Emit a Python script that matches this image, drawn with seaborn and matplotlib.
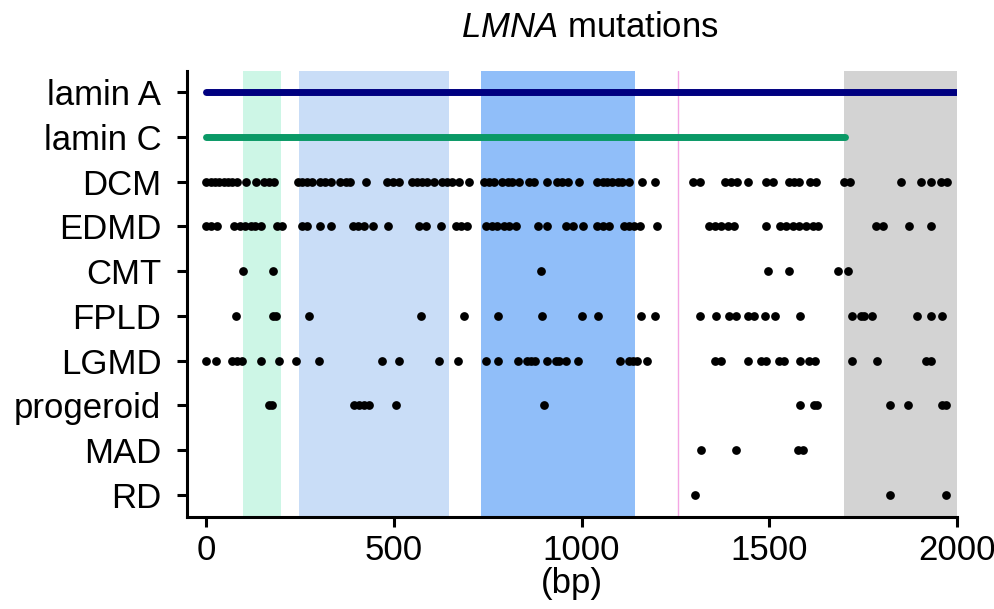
"""LMNA mutation positions by disease, drawn as a strip plot."""

import matplotlib

matplotlib.use("Agg")
import matplotlib.pyplot as plt
import pandas as pd
import seaborn as sns

rows = ["lamin A", "lamin C", "DCM", "EDMD", "CMT", "FPLD", "LGMD", "progeroid", "MAD", "RD"]

lamin_a_span = [0, 2000]
lamin_c_span = [0, 1702]

dcm = [1, 13, 24, 36, 47, 59, 70, 82, 107, 134, 156, 169, 182, 245, 257, 270, 283,
       305, 318, 332, 358, 372, 385, 427, 483, 498, 514, 550, 563, 576, 589, 607,
       629, 643, 656, 674, 700, 740, 754, 767, 789, 803, 816, 834, 860, 874, 907,
       936, 949, 963, 994, 1042, 1056, 1069, 1082, 1096, 1109, 1127, 1160, 1195,
       1296, 1316, 1382, 1398, 1415, 1442, 1491, 1511, 1553, 1566, 1580, 1609,
       1624, 1700, 1716, 1851, 1904, 1929, 1957, 1973]
edmd = [0, 14, 30, 74, 92, 105, 119, 132, 147, 190, 203, 256, 268, 305, 334, 391,
        406, 421, 446, 485, 567, 585, 625, 667, 680, 694, 745, 763, 776, 794, 807,
        825, 883, 907, 958, 976, 1005, 1042, 1056, 1073, 1112, 1127, 1140, 1156,
        1200, 1340, 1355, 1371, 1389, 1405, 1491, 1528, 1544, 1562, 1580, 1598,
        1615, 1630, 1784, 1802, 1873, 1929]
cmt = [99, 178, 891, 1497, 1551, 1684, 1710]
fpld = [81, 180, 188, 274, 574, 687, 778, 894, 1001, 1045, 1158, 1195, 1316, 1358,
        1393, 1411, 1442, 1458, 1488, 1515, 1582, 1719, 1744, 1751, 1773, 1893,
        1931, 1960]
lgmd = [1, 28, 70, 83, 96, 147, 194, 240, 302, 469, 514, 621, 672, 745, 778, 832,
        854, 865, 876, 907, 931, 940, 958, 991, 1103, 1127, 1138, 1149, 1174, 1356,
        1371, 1442, 1478, 1491, 1527, 1540, 1582, 1606, 1622, 1719, 1786, 1917, 1931]
progeroid = [167, 176, 394, 407, 421, 434, 507, 899, 1582, 1620, 1627, 1822, 1869,
             1960, 1971]
mad = [1318, 1411, 1577, 1589]
rd = [1303, 1822, 1969]

# shaded domains (bp) and a marker line
domains = [(100, 200, "#cdf6e6"), (247, 648, "#c9ddf7"), (732, 1143, "#90bef9"),
           (1700, 2000, "#d3d3d3")]
marker_pos = 1256

mutations = pd.concat(
    [
        pd.DataFrame({"disease": name, "pos": vals})
        for name, vals in [("DCM", dcm), ("EDMD", edmd), ("CMT", cmt), ("FPLD", fpld),
                           ("LGMD", lgmd), ("progeroid", progeroid), ("MAD", mad),
                           ("RD", rd)]
    ],
    ignore_index=True,
)

sns.set_theme(style="ticks")
plt.rcParams["font.family"] = ["Liberation Sans", "DejaVu Sans"]
plt.rcParams["mathtext.fontset"] = "custom"
plt.rcParams["mathtext.it"] = "Liberation Sans:italic"
plt.rcParams["mathtext.rm"] = "Liberation Sans"
for key in ["text.color", "axes.labelcolor", "xtick.color", "ytick.color"]:
    plt.rcParams[key] = "black"

fig = plt.figure(figsize=(9.95, 6.09), dpi=100)
ax = fig.add_axes([0.188, 0.151, 0.774, 0.732])

for lo, hi, col in domains:
    ax.axvspan(lo, hi, color=col, lw=0, zorder=0)
ax.axvline(marker_pos, color="#f4a6e4", lw=1, zorder=0)

sns.stripplot(data=mutations, x="pos", y="disease", order=rows, jitter=False,
              color="black", size=6.3, linewidth=0, ax=ax, zorder=3)

ax.plot(lamin_a_span, [0, 0], color="#000080", lw=5, solid_capstyle="round", zorder=2)
ax.plot(lamin_c_span, [1, 1], color="#0a9966", lw=5, solid_capstyle="round", zorder=2)

ax.set_xlim(-50, 2000)
ax.set_ylim(len(rows) - 0.5, -0.47)
ax.set_xticks([0, 500, 1000, 1500, 2000])
ax.set_xlabel("(bp)", fontsize=25, labelpad=0)
ax.set_ylabel("")
ax.tick_params(axis="both", labelsize=25, width=2.2, length=7.5, color="black")
ax.tick_params(axis="y", pad=11)
ax.tick_params(axis="x", pad=5)
for side in ["top", "right"]:
    ax.spines[side].set_visible(False)
for side in ["left", "bottom"]:
    ax.spines[side].set_linewidth(2.2)
    ax.spines[side].set_color("black")

fig.text(0.593, 0.955, r"$\it{LMNA}$ mutations", ha="center", va="center", fontsize=25)

fig.savefig("out.png", dpi=100)
plt.close(fig)
